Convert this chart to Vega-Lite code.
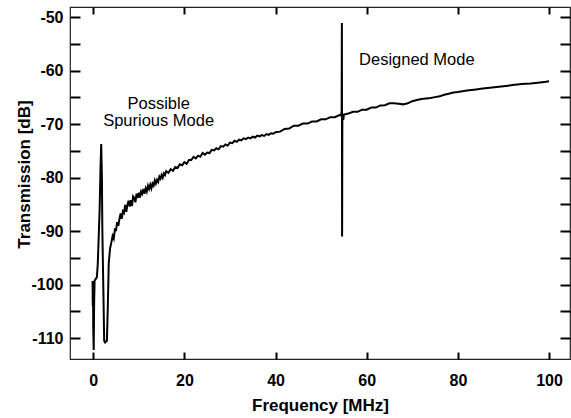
{
  "$schema": "https://vega.github.io/schema/vega-lite/v6.json",
  "width": 500,
  "height": 352,
  "autosize": "none",
  "padding": {"left": 70, "top": 7, "right": 1, "bottom": 59},
  "background": "white",
  "config": {
    "view": {"stroke": "#222", "strokeWidth": 1.2},
    "axis": {
      "domain": false,
      "grid": false,
      "tickColor": "black",
      "tickWidth": 2,
      "labelFont": "Liberation Sans",
      "labelFontWeight": "bold",
      "labelFontSize": 16,
      "labelColor": "black",
      "titleFont": "Liberation Sans",
      "titleFontWeight": "bold",
      "titleFontSize": 17,
      "titleColor": "black"
    }
  },
  "datasets": {
    "curve": [
      {"f": -0.15, "t": -99.3}, {"f": -0.1, "t": -104}, {"f": -0.05, "t": -99.5}, {"f": 0.0, "t": -108},
      {"f": 0.1, "t": -112.2}, {"f": 0.2, "t": -103}, {"f": 0.3, "t": -99.2}, {"f": 0.5, "t": -99.0},
      {"f": 0.8, "t": -98.6}, {"f": 1.0, "t": -96}, {"f": 1.2, "t": -91}, {"f": 1.4, "t": -86},
      {"f": 1.6, "t": -78}, {"f": 1.75, "t": -73.7}, {"f": 1.9, "t": -80}, {"f": 2.0, "t": -90},
      {"f": 2.2, "t": -100}, {"f": 2.4, "t": -110.5}, {"f": 2.6, "t": -110.8}, {"f": 2.8, "t": -110.6},
      {"f": 3.0, "t": -110.5}, {"f": 3.2, "t": -104}, {"f": 3.4, "t": -96}, {"f": 3.7, "t": -93.2},
      {"f": 4.0, "t": -92.0}, {"f": 4.25, "t": -90.9}, {"f": 4.5, "t": -91.4}, {"f": 4.75, "t": -89.7},
      {"f": 5.0, "t": -89.8}, {"f": 5.25, "t": -88.3}, {"f": 5.5, "t": -89.0}, {"f": 5.75, "t": -87.7},
      {"f": 6.0, "t": -86.7}, {"f": 6.25, "t": -87.7}, {"f": 6.5, "t": -86.3}, {"f": 6.75, "t": -86.6},
      {"f": 7.0, "t": -85.1}, {"f": 7.25, "t": -86.4}, {"f": 7.5, "t": -85.1}, {"f": 7.75, "t": -84.3},
      {"f": 8.0, "t": -85.4}, {"f": 8.25, "t": -84.2}, {"f": 8.5, "t": -85.3}, {"f": 8.75, "t": -83.5},
      {"f": 9.0, "t": -83.8}, {"f": 9.25, "t": -84.6}, {"f": 9.5, "t": -83.0}, {"f": 9.75, "t": -83.8},
      {"f": 10.0, "t": -82.8}, {"f": 10.25, "t": -83.7}, {"f": 10.5, "t": -82.6}, {"f": 10.75, "t": -83.0},
      {"f": 11.0, "t": -82.1}, {"f": 11.25, "t": -83.0}, {"f": 11.5, "t": -82.0}, {"f": 11.75, "t": -82.6},
      {"f": 12.0, "t": -81.5}, {"f": 12.25, "t": -82.1}, {"f": 12.5, "t": -81.3}, {"f": 12.75, "t": -82.0},
      {"f": 13.0, "t": -81.1}, {"f": 13.25, "t": -81.5}, {"f": 13.5, "t": -80.5}, {"f": 13.75, "t": -81.1},
      {"f": 14.0, "t": -80.4}, {"f": 14.25, "t": -80.8}, {"f": 14.5, "t": -79.8}, {"f": 14.75, "t": -80.2},
      {"f": 15.0, "t": -79.5}, {"f": 15.25, "t": -80.0}, {"f": 15.5, "t": -79.2}, {"f": 15.75, "t": -79.5},
      {"f": 16.0, "t": -78.8}, {"f": 16.5, "t": -79.1}, {"f": 17.0, "t": -78.4}, {"f": 17.5, "t": -78.7},
      {"f": 18.0, "t": -78.0}, {"f": 18.5, "t": -78.2}, {"f": 19.0, "t": -77.5}, {"f": 19.5, "t": -77.7},
      {"f": 20.0, "t": -77.1}, {"f": 20.5, "t": -77.4}, {"f": 21.0, "t": -76.7}, {"f": 21.5, "t": -76.7},
      {"f": 22.0, "t": -76.1}, {"f": 22.5, "t": -76.4}, {"f": 23.0, "t": -75.9}, {"f": 23.5, "t": -76.1},
      {"f": 24.0, "t": -75.4}, {"f": 24.5, "t": -75.7}, {"f": 25.0, "t": -75.3}, {"f": 25.5, "t": -75.4},
      {"f": 26.0, "t": -74.8}, {"f": 26.5, "t": -74.9}, {"f": 27.0, "t": -74.5}, {"f": 27.5, "t": -74.7},
      {"f": 28.0, "t": -74.1}, {"f": 28.5, "t": -74.2}, {"f": 29.0, "t": -73.8}, {"f": 29.5, "t": -74.0},
      {"f": 30.0, "t": -73.45}, {"f": 30.5, "t": -73.55}, {"f": 31.0, "t": -73.1}, {"f": 31.5, "t": -73.3},
      {"f": 32.0, "t": -72.9}, {"f": 32.5, "t": -73.05}, {"f": 33.0, "t": -72.65}, {"f": 33.5, "t": -72.8},
      {"f": 34.0, "t": -72.5}, {"f": 34.5, "t": -72.65}, {"f": 35.0, "t": -72.35}, {"f": 35.5, "t": -72.5},
      {"f": 36.0, "t": -72.15}, {"f": 36.5, "t": -72.3}, {"f": 37.0, "t": -72.05}, {"f": 37.5, "t": -72.2},
      {"f": 38.0, "t": -71.85}, {"f": 38.5, "t": -72.0}, {"f": 39.0, "t": -71.7}, {"f": 39.5, "t": -71.8},
      {"f": 40.0, "t": -71.5}, {"f": 41.0, "t": -71.4}, {"f": 42.0, "t": -70.9}, {"f": 43.0, "t": -70.8},
      {"f": 44.0, "t": -70.3}, {"f": 45.0, "t": -70.3}, {"f": 46.0, "t": -69.9}, {"f": 47.0, "t": -69.9},
      {"f": 48.0, "t": -69.5}, {"f": 49.0, "t": -69.5}, {"f": 50.0, "t": -69.1}, {"f": 51.0, "t": -69.1},
      {"f": 52.0, "t": -68.7}, {"f": 53.0, "t": -68.7}, {"f": 54.0, "t": -68.3}, {"f": 54.4, "t": -68.4},
      {"f": 54.5, "t": -67.5}, {"f": 54.55, "t": -51.1}, {"f": 54.6, "t": -91.0}, {"f": 54.65, "t": -69.5},
      {"f": 54.75, "t": -68.2}, {"f": 54.85, "t": -69.2}, {"f": 55.0, "t": -68.2}, {"f": 56.0, "t": -68.0},
      {"f": 57.0, "t": -67.7}, {"f": 58.0, "t": -67.7}, {"f": 59.0, "t": -67.3}, {"f": 60.0, "t": -67.3},
      {"f": 61.0, "t": -66.9}, {"f": 62.0, "t": -66.9}, {"f": 63.0, "t": -66.5}, {"f": 64.0, "t": -66.45},
      {"f": 65.0, "t": -66.1}, {"f": 66.0, "t": -66.1}, {"f": 67.0, "t": -66.2}, {"f": 68.0, "t": -66.3},
      {"f": 69.0, "t": -66.1}, {"f": 70.0, "t": -65.7}, {"f": 71.0, "t": -65.5}, {"f": 72.0, "t": -65.3},
      {"f": 73.0, "t": -65.2}, {"f": 74.0, "t": -65.1}, {"f": 75.0, "t": -64.95}, {"f": 76.0, "t": -64.8},
      {"f": 77.0, "t": -64.5}, {"f": 78.0, "t": -64.3}, {"f": 79.0, "t": -64.1}, {"f": 80.0, "t": -64.0},
      {"f": 81.0, "t": -63.85}, {"f": 82.0, "t": -63.7}, {"f": 83.0, "t": -63.6}, {"f": 84.0, "t": -63.5},
      {"f": 85.0, "t": -63.4}, {"f": 86.0, "t": -63.3}, {"f": 87.0, "t": -63.2}, {"f": 88.0, "t": -63.1},
      {"f": 89.0, "t": -63.0}, {"f": 90.0, "t": -62.9}, {"f": 91.0, "t": -62.8}, {"f": 92.0, "t": -62.7},
      {"f": 93.0, "t": -62.6}, {"f": 94.0, "t": -62.5}, {"f": 95.0, "t": -62.45}, {"f": 96.0, "t": -62.4},
      {"f": 97.0, "t": -62.3}, {"f": 98.0, "t": -62.2}, {"f": 99.0, "t": -62.1}, {"f": 100.0, "t": -62.0}
    ],
    "notes": [
      {"f": 14.35, "t": -67.2, "label": ["Possible", "Spurious Mode"]},
      {"f": 71.0, "t": -58.9, "label": ["Designed Mode"]}
    ]
  },
  "layer": [
    {
      "data": {"name": "curve"},
      "mark": {"type": "line", "color": "black", "strokeWidth": 2, "strokeJoin": "miter", "clip": true},
      "encoding": {
        "x": {
          "field": "f", "type": "quantitative",
          "scale": {"domain": [-5.1, 104.6], "nice": false, "zero": false},
          "axis": {
            "orient": "bottom", "values": [0, 20, 40, 60, 80, 100],
            "offset": -7, "tickSize": 7, "labelPadding": 13, "labelBaseline": "top",
            "title": "Frequency [MHz]", "titleY": 58, "titleBaseline": "alphabetic"
          }
        },
        "y": {
          "field": "t", "type": "quantitative",
          "scale": {"domain": [-113.9, -48.1], "nice": false, "zero": false},
          "axis": {
            "orient": "left",
            "values": [-110, -105, -100, -95, -90, -85, -80, -75, -70, -65, -60, -55, -50],
            "labelExpr": "datum.value % 10 === 0 ? '-' + abs(datum.value) : ''",
            "offset": -10, "tickSize": 10, "labelPadding": 7, "labelBaseline": "middle",
            "title": "Transmission [dB]", "titleX": -56, "titleY": 167,
            "titleAngle": -90, "titleAlign": "center", "titleBaseline": "middle"
          }
        }
      }
    },
    {
      "data": {"name": "curve"},
      "mark": {"type": "line", "opacity": 0},
      "encoding": {
        "x": {
          "field": "f", "type": "quantitative",
          "scale": {"domain": [-5.1, 104.6], "nice": false, "zero": false},
          "axis": {"orient": "top", "values": [0, 20, 40, 60, 80, 100], "offset": -7, "tickSize": 7, "labels": false, "title": null}
        },
        "y": {
          "field": "t", "type": "quantitative",
          "scale": {"domain": [-113.9, -48.1], "nice": false, "zero": false},
          "axis": {
            "orient": "right",
            "values": [-110, -105, -100, -95, -90, -85, -80, -75, -70, -65, -60, -55, -50],
            "offset": -10, "tickSize": 10, "labels": false, "title": null
          }
        }
      }
    },
    {
      "data": {"name": "notes"},
      "mark": {"type": "text", "font": "Liberation Sans", "fontSize": 16.5, "lineHeight": 16.7, "color": "black", "align": "center", "baseline": "alphabetic"},
      "encoding": {
        "x": {"field": "f", "type": "quantitative", "scale": {"domain": [-5.1, 104.6], "nice": false, "zero": false}, "axis": null},
        "y": {"field": "t", "type": "quantitative", "scale": {"domain": [-113.9, -48.1], "nice": false, "zero": false}, "axis": null},
        "text": {"field": "label"}
      }
    }
  ],
  "resolve": {"axis": {"x": "independent", "y": "independent"}}
}
